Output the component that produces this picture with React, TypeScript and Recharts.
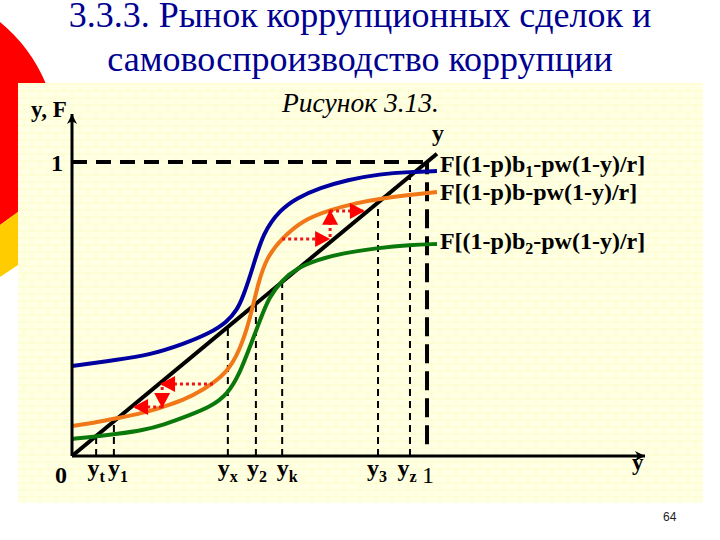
import { ComposedChart, Line, XAxis, YAxis, ReferenceLine, ReferenceDot } from "recharts";

const titleLines = ["3.3.3. Рынок коррупционных сделок и", "самовоспроизводство коррупции"];
const figureCaption = "Рисунок 3.13.";
const pageNumber = "64";

const blueCurve = [
  { x: 0, y: 0.306 }, { x: 0.127, y: 0.327 }, { x: 0.22, y: 0.344 }, { x: 0.313, y: 0.38 },
  { x: 0.389, y: 0.418 }, { x: 0.437, y: 0.456 }, { x: 0.465, y: 0.497 }, { x: 0.482, y: 0.541 },
  { x: 0.51, y: 0.643 }, { x: 0.538, y: 0.759 }, { x: 0.586, y: 0.837 }, { x: 0.634, y: 0.878 },
  { x: 0.699, y: 0.912 }, { x: 0.775, y: 0.939 }, { x: 0.868, y: 0.959 }, { x: 0.952, y: 0.966 },
  { x: 1.028, y: 0.969 },
];
const orangeCurve = [
  { x: 0, y: 0.102 }, { x: 0.059, y: 0.112 }, { x: 0.127, y: 0.129 }, { x: 0.2, y: 0.146 },
  { x: 0.256, y: 0.167 }, { x: 0.313, y: 0.19 }, { x: 0.369, y: 0.224 }, { x: 0.437, y: 0.282 },
  { x: 0.473, y: 0.361 }, { x: 0.501, y: 0.463 }, { x: 0.524, y: 0.588 }, { x: 0.549, y: 0.677 },
  { x: 0.592, y: 0.741 }, { x: 0.651, y: 0.803 }, { x: 0.727, y: 0.837 }, { x: 0.803, y: 0.861 },
  { x: 0.862, y: 0.874 }, { x: 0.952, y: 0.888 }, { x: 1.028, y: 0.898 },
];
const greenCurve = [
  { x: 0, y: 0.058 }, { x: 0.059, y: 0.065 }, { x: 0.127, y: 0.075 }, { x: 0.2, y: 0.088 },
  { x: 0.256, y: 0.105 }, { x: 0.332, y: 0.139 }, { x: 0.389, y: 0.167 }, { x: 0.437, y: 0.207 },
  { x: 0.473, y: 0.282 }, { x: 0.501, y: 0.371 }, { x: 0.53, y: 0.463 }, { x: 0.555, y: 0.54 },
  { x: 0.592, y: 0.599 }, { x: 0.634, y: 0.639 }, { x: 0.69, y: 0.667 }, { x: 0.763, y: 0.69 },
  { x: 0.859, y: 0.707 }, { x: 0.952, y: 0.718 }, { x: 1.028, y: 0.721 },
];
const diagonal = [{ x: 0, y: 0 }, { x: 1.028, y: 1.028 }];

// equilibrium points on the x axis, each one dropped from the diagonal
const equilibria = [0.068, 0.118, 0.439, 0.518, 0.592, 0.862, 0.952];
const xTickValues = [0, 0.068, 0.118, 0.439, 0.518, 0.592, 0.862, 0.952, 1];
const xTickLabels = [["0", ""], ["y", "t"], ["y", "1"], ["y", "x"], ["y", "2"], ["y", "k"], ["y", "3"], ["y", "z"], ["1", ""]];

const arrows = [
  { x1: 0.397, y1: 0.245, x2: 0.248, y2: 0.245 },
  { x1: 0.254, y1: 0.235, x2: 0.254, y2: 0.163 },
  { x1: 0.254, y1: 0.167, x2: 0.172, y2: 0.167 },
  { x1: 0.592, y1: 0.738, x2: 0.727, y2: 0.738 },
  { x1: 0.727, y1: 0.745, x2: 0.727, y2: 0.837 },
  { x1: 0.727, y1: 0.833, x2: 0.825, y2: 0.833 },
];

const X_MAX = 1.614;
const Y_MAX = 1.163;
const serif = "'Liberation Serif', serif";
const tickShift = [-11, 0, 4, 0, 1, 5, -1, -3, 1];

const XTick = ({ x, y, index }: any) => {
  const [base, sub] = xTickLabels[index];
  const digit = !sub;
  return (
    <text x={x + tickShift[index]} y={y + 12} textAnchor="middle" fontFamily={serif} fontSize={24}
      fontWeight={base === "1" ? 400 : 700} fill="#000" dy={digit ? 7 : 0}>
      {base}
      {sub && <tspan fontSize={16} dy={6}>{sub}</tspan>}
    </text>
  );
};

const YTick = ({ x, y }: any) => (
  <text x={x - 7} y={y + 9} textAnchor="middle" fontFamily={serif} fontSize={24} fontWeight={700} fill="#000">1</text>
);

const curveLabel = (sub: string, offset: number, last: number) => (props: any) => {
  if (props.index !== last) return null;
  return (
    <text x={props.x + 3} y={props.y + offset} fontFamily={serif} fontSize={24} fontWeight={700} fill="#000">
      F[(1-p)b
      {sub && <tspan fontSize={16} dy={5}>{sub}</tspan>}
      <tspan dy={sub ? -5 : 0}>-pw(1-y)/r]</tspan>
    </text>
  );
};

const diagonalLabel = (props: any) =>
  props.index === 1 ? (
    <text x={props.x + 1} y={props.y - 13} textAnchor="middle" fontFamily={serif} fontSize={24} fontWeight={700} fill="#000">y</text>
  ) : null;

const Head = ({ cx, cy, dx, dy }: any) => {
  const angle = (Math.atan2(dy, dx) * 180) / Math.PI;
  return <polygon points="0,0 -15,-8 -15,8" fill="#ff0000" transform={`translate(${cx},${cy}) rotate(${angle})`} />;
};

const AxisEnd = ({ cx, cy, angle, text, tx, ty }: any) => (
  <g>
    <polygon points="0,0 -10,-5 -7,0 -10,5" fill="#000" transform={`translate(${cx},${cy}) rotate(${angle})`} />
    <text x={cx + tx} y={cy + ty} fontFamily={serif} fontSize={23} fontWeight={700} fill="#000">{text}</text>
  </g>
);

const Backdrop = () => (
  <svg width={720} height={540} style={{ position: "absolute", left: 0, top: 0 }}>
    <defs>
      <pattern id="bricks" width={16} height={14} patternUnits="userSpaceOnUse">
        <rect width={16} height={14} fill="#fdfdd6" />
        <rect x={1} y={1} width={14} height={5} fill="#ffffe4" />
        <rect x={-7} y={8} width={14} height={5} fill="#ffffe4" />
        <rect x={9} y={8} width={14} height={5} fill="#ffffe4" />
      </pattern>
    </defs>
    <path d="M0,22 A160,160 0 0 1 46,84 L18,84 L18,212 L0,225 Z" fill="#ff0000" />
    <polygon points="0,225 18,212 18,265 0,277" fill="#ffcc00" />
    <rect x={18} y={83} width={685} height={420} fill="url(#bricks)" />
  </svg>
);

export default function App() {
  return (
    <div style={{ position: "absolute", left: 0, top: 0, width: 720, height: 540, background: "#fff", overflow: "hidden" }}>
      <Backdrop />
      {titleLines.map((line, i) => (
        <div key={i} style={{ position: "absolute", left: 0, width: 720, top: i * 44, textAlign: "center",
          fontFamily: serif, fontSize: 36, lineHeight: "31px", color: "#000090", whiteSpace: "nowrap" }}>
          {line}
        </div>
      ))}
      <div style={{ position: "absolute", left: 282, top: 89, fontFamily: serif, fontStyle: "italic", fontSize: 27.5, lineHeight: "28px", color: "#000" }}>
        {figureCaption}
      </div>
      <div style={{ position: "absolute", left: 663, top: 511, fontFamily: "'Liberation Sans', sans-serif", fontSize: 12, lineHeight: "13px", color: "#222" }}>
        {pageNumber}
      </div>
      <div style={{ position: "absolute", left: 0, top: 0 }}>
        <ComposedChart width={720} height={540} margin={{ top: 114, right: 75, bottom: 44, left: 0 }}>
          <XAxis type="number" dataKey="x" domain={[0, X_MAX]} ticks={xTickValues} interval={0} height={40}
            tick={<XTick />} tickLine={false} axisLine={{ stroke: "#000", strokeWidth: 3 }} allowDuplicatedCategory={false} />
          <YAxis type="number" domain={[0, Y_MAX]} ticks={[1]} width={72} tick={<YTick />} tickLine={false}
            axisLine={{ stroke: "#000", strokeWidth: 3 }} />

          <ReferenceLine segment={[{ x: 0, y: 1 }, { x: 1, y: 1 }]} stroke="#000" strokeWidth={4} strokeDasharray="15 9" />
          <ReferenceLine segment={[{ x: 1, y: 0.04 }, { x: 1, y: 1 }]} stroke="#000" strokeWidth={4} strokeDasharray="19 8" />
          {equilibria.map((v) => (
            <ReferenceLine key={v} segment={[{ x: v, y: 0 }, { x: v, y: v }]} stroke="#000" strokeWidth={2} strokeDasharray="7 5" />
          ))}

          <Line data={diagonal} dataKey="y" type="linear" stroke="#000" strokeWidth={4} dot={false} label={diagonalLabel} isAnimationActive={false} />
          <Line data={blueCurve} dataKey="y" type="basis" stroke="#0000a0" strokeWidth={4} dot={false}
            label={curveLabel("1", 1, blueCurve.length - 1)} isAnimationActive={false} />
          <Line data={orangeCurve} dataKey="y" type="basis" stroke="#f07818" strokeWidth={4} dot={false}
            label={curveLabel("", 8, orangeCurve.length - 1)} isAnimationActive={false} />
          <Line data={greenCurve} dataKey="y" type="basis" stroke="#0a780a" strokeWidth={4} dot={false}
            label={curveLabel("2", 5, greenCurve.length - 1)} isAnimationActive={false} />

          {arrows.map((a, i) => (
            <ReferenceLine key={i} segment={[{ x: a.x1, y: a.y1 }, { x: a.x2, y: a.y2 }]} stroke="#e81818" strokeWidth={3} strokeDasharray="3 3" />
          ))}
          {arrows.map((a, i) => (
            <ReferenceDot key={i} x={a.x2} y={a.y2} ifOverflow="visible"
              shape={(p: any) => <Head cx={p.cx} cy={p.cy} dx={a.x2 - a.x1} dy={a.y1 - a.y2} />} />
          ))}
          <ReferenceDot x={X_MAX} y={0} ifOverflow="visible"
            shape={(p: any) => <AxisEnd cx={p.cx} cy={p.cy} angle={0} text="y" tx={-13} ty={14} />} />
          <ReferenceDot x={0} y={Y_MAX} ifOverflow="visible"
            shape={(p: any) => <AxisEnd cx={p.cx} cy={p.cy} angle={-90} text="y, F" tx={-41} ty={3} />} />
        </ComposedChart>
      </div>
    </div>
  );
}
